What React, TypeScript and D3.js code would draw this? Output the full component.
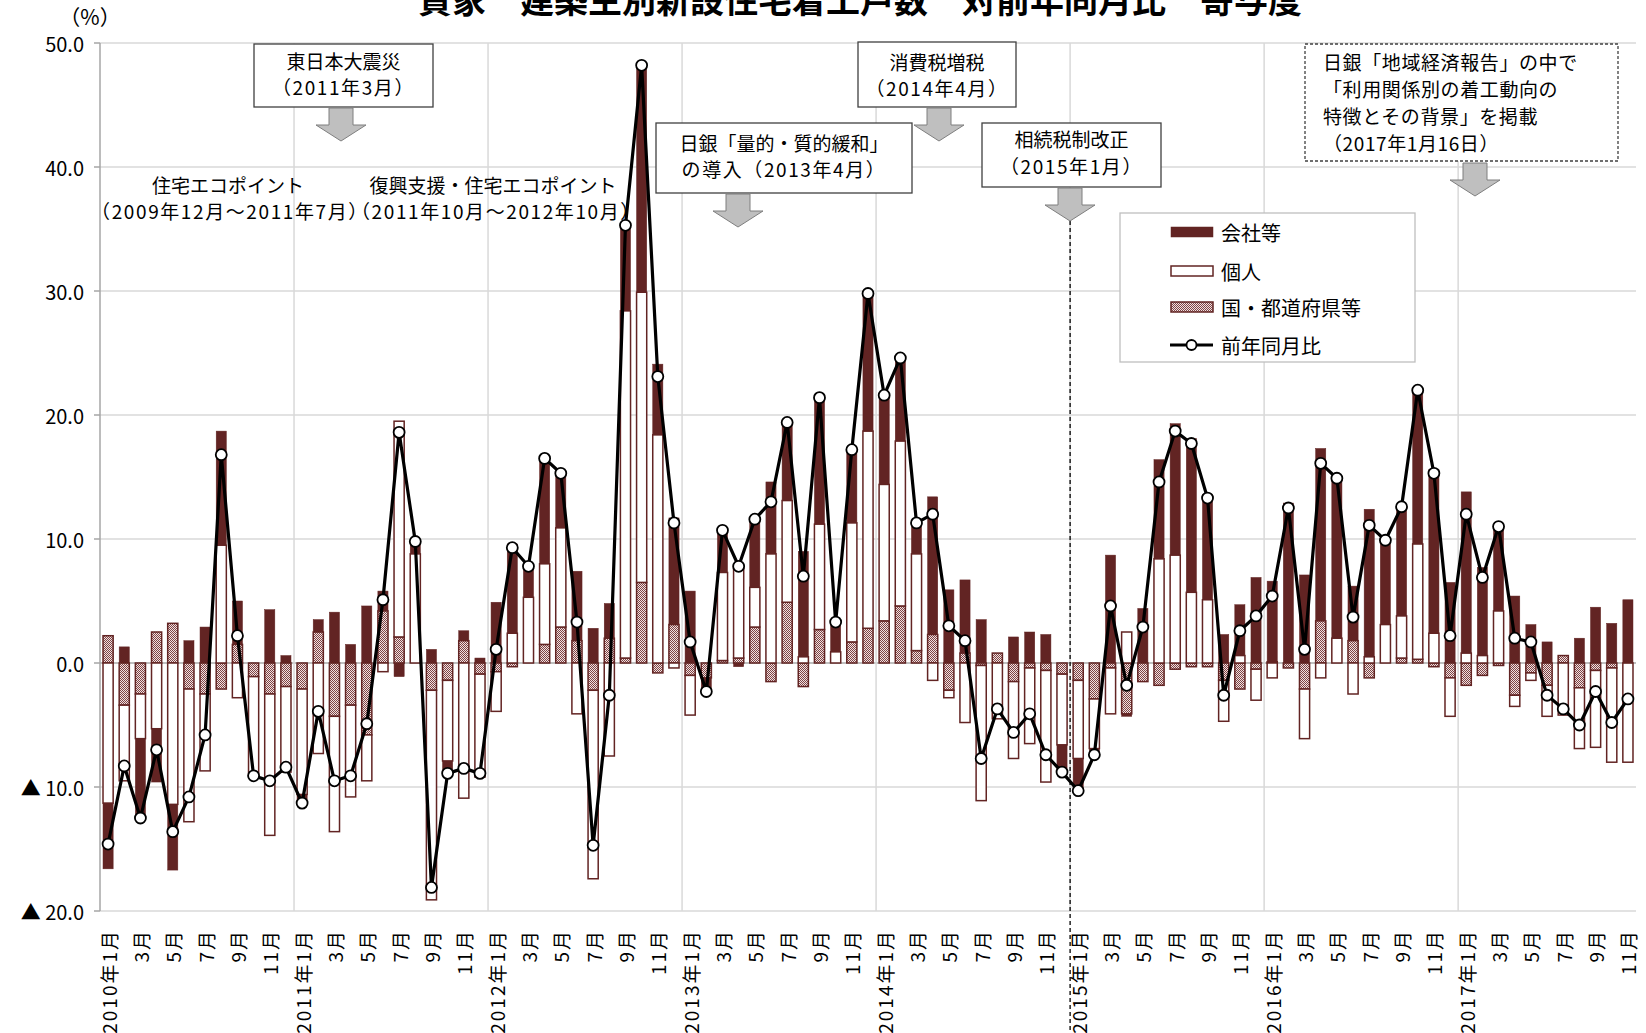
import React from "react";
import * as d3 from "d3";

// Monthly categories: 2010年1月 – 2017年11月
const years: number[] = [2010, 2011, 2012, 2013, 2014, 2015, 2016, 2017];
const monthsPerYear: number[] = [1, 2, 3, 4, 5, 6, 7, 8, 9, 10, 11, 12];
const categories: { year: number; month: number }[] = years
  .flatMap((yr) => monthsPerYear.map((m) => ({ year: yr, month: m })))
  .filter((c) => !(c.year === 2017 && c.month === 12));

// 寄与度 (percentage points) by builder type
const kaisha: number[] = [
  -5.3, 1.3, -6.3, -4.3, -5.3, 1.8, 2.9, 9.2, 3.5, 0, 4.3, 0.6,
  -0.7, 1.0, 4.1, 1.5, 4.6, 1.6, -1.1, 1.0, 1.1, -1.0, 0.8, 0.4,
  4.9, 7.2, 2.5, 8.4, 4.5, 5.6, 2.8, 2.8, 6.9, 18.4, 5.7, 8.6,
  5.8, -1.0, 3.4, -0.3, 5.4, 5.8, 6.3, 8.5, 10.3, 2.6, 6.0, 10.9,
  7.3, 6.7, 2.5, 11.1, 5.9, 5.9, 3.5, 0, 2.1, 2.5, 2.3, -2.2,
  -2.6, -0.5, 8.7, -0.2, 4.4, 8.0, 10.6, 12.4, 8.5, 2.3, 4.1, 6.9,
  6.5, 12.9, 7.1, 13.9, 13.0, 4.4, 11.9, 6.9, 8.9, 12.5, 13.2, 6.5,
  13.0, 7.1, 6.8, 5.4, 3.1, 1.7, 0, 2.0, 4.5, 3.2, 5.1,
];
const kojin: number[] = [
  -11.3, -6.1, -3.6, -5.3, -11.4, -10.7, -6.2, 9.5, -2.8, -8.0, -11.4, -6.9,
  -8.5, -7.3, -9.3, -7.4, -3.7, -0.7, 17.4, 8.8, -16.9, -6.5, -10.9, -8.3,
  -3.2, 2.4, 5.3, 6.5, 8.0, -4.1, -15.2, -7.5, 28.0, 23.4, 18.4, -0.4,
  -3.2, 0, 7.1, 7.4, 3.2, 8.8, 8.2, 0.5, 8.5, 0.9, 9.6, 15.9,
  11.0, 13.3, 7.8, -1.4, -0.6, -4.8, -10.9, -4.5, -6.2, -6.1, -9.0, -5.7,
  -6.3, -4.0, -3.7, 2.5, 0, 8.4, 8.7, 5.7, 5.1, -3.3, 0.6, -2.5,
  -1.2, 0, -4.0, -1.2, 2.0, -2.5, 0.5, 3.1, 3.4, 9.3, 2.4, -3.1,
  0.8, 0.6, 4.2, -0.9, -0.6, -2.5, -4.2, -4.9, -6.2, -7.6, -8.0,
];
const kuni: number[] = [
  2.2, -3.4, -2.5, 2.5, 3.2, -2.1, -2.5, -2.1, 1.5, -1.1, -2.5, -1.9,
  -2.1, 2.5, -4.3, -3.4, -5.8, 4.2, 2.1, 0, -2.2, -1.4, 1.8, -0.9,
  -0.7, -0.3, 0, 1.5, 2.9, 1.8, -2.2, 2.0, 0.4, 6.5, -0.8, 3.1,
  -1.0, -1.2, 0.2, 0.4, 2.9, -1.5, 4.9, -1.9, 2.7, 0, 1.7, 2.8,
  3.4, 4.6, 1.0, 2.3, -2.2, 0.8, -0.2, 0.8, -1.5, -0.4, -0.6, -0.9,
  -1.4, -2.9, -0.4, -4.1, -1.5, -1.8, -0.5, -0.3, -0.3, -1.4, -2.1, -0.5,
  0.1, -0.4, -2.1, 3.4, 0, 1.8, -1.2, 0, 0.4, 0.3, -0.3, -1.2,
  -1.8, -1.0, -0.2, -2.6, -0.8, -1.8, 0.6, -2.0, -0.6, -0.4, 0,
];
// 前年同月比 (%)
const yoy: number[] = [
  -14.6, -8.3, -12.5, -7.0, -13.6, -10.8, -5.8, 16.8, 2.2, -9.1, -9.5, -8.4,
  -11.3, -3.9, -9.5, -9.1, -4.9, 5.1, 18.6, 9.8, -18.1, -8.9, -8.5, -8.9,
  1.1, 9.3, 7.8, 16.5, 15.3, 3.3, -14.7, -2.6, 35.3, 48.2, 23.1, 11.3,
  1.7, -2.3, 10.7, 7.8, 11.6, 13.0, 19.4, 7.0, 21.4, 3.3, 17.2, 29.8,
  21.6, 24.6, 11.3, 12.0, 3.0, 1.8, -7.7, -3.7, -5.6, -4.1, -7.4, -8.8,
  -10.3, -7.4, 4.6, -1.8, 2.9, 14.6, 18.7, 17.7, 13.3, -2.6, 2.6, 3.8,
  5.4, 12.5, 1.1, 16.1, 14.9, 3.7, 11.1, 9.9, 12.6, 22.0, 15.3, 2.2,
  12.0, 6.9, 11.0, 2.0, 1.7, -2.6, -3.7, -5.0, -2.3, -4.8, -2.9,
];

const yTicks: number[] = [50, 40, 30, 20, 10, 0, -10, -20];
const seriesKeys: string[] = ["kuni", "kojin", "kaisha"];
const legendItems: { key: string; label: string }[] = [
  { key: "kaisha", label: "会社等" },
  { key: "kojin", label: "個人" },
  { key: "kuni", label: "国・都道府県等" },
  { key: "line", label: "前年同月比" },
];

const W = 1646;
const H = 1033;
const MAROON = "#622423";
const FONT = '"Noto Sans CJK JP", "Noto Sans", sans-serif';

const x = d3
  .scaleBand<number>()
  .domain(d3.range(categories.length))
  .range([100, 1636])
  .paddingInner(0.28)
  .paddingOuter(0.14);
const y = d3.scaleLinear().domain([-20, 50]).range([911, 43]);

const rows = categories.map((_, i) => ({ kuni: kuni[i], kojin: kojin[i], kaisha: kaisha[i] }));
const stacked = d3
  .stack<any>()
  .keys(seriesKeys)
  .offset(d3.stackOffsetDiverging)(rows);

const step = x.step();
const boundary = (i: number) => (x(i) as number) - (step * x.paddingInner()) / 2;
const cx = (i: number) => (x(i) as number) + x.bandwidth() / 2;

const linePath = d3
  .line<number>()
  .x((_, i) => cx(i))
  .y((v) => y(v))(yoy) as string;

const fillFor = (key: string) =>
  key === "kaisha" ? MAROON : key === "kojin" ? "#ffffff" : "url(#hatch)";

const arrow = (mx: number, top: number) =>
  `M${mx - 12},${top} h24 v17 h13 l-25,16 l-25,-16 h13 z`;

const fmtTick = (v: number) => (v < 0 ? `▲ ${Math.abs(v).toFixed(1)}` : v.toFixed(1));
// lines containing dates are set a little wider
const spacingFor = (s: string) => (/[0-9]/.test(s) ? 1.6 : 0);

type Note = { x0: number; y0: number; x1: number; y1: number; lines: string[]; ly: number[]; dashed?: boolean; left?: boolean; ax: number; ay: number };
const notes: Note[] = [
  { x0: 254, y0: 44, x1: 433, y1: 107, lines: ["東日本大震災", "（2011年3月）"], ly: [60, 86], ax: 341, ay: 108 },
  { x0: 858, y0: 42, x1: 1016, y1: 107, lines: ["消費税増税", "（2014年4月）"], ly: [61, 87], ax: 939, ay: 108 },
  { x0: 656, y0: 123, x1: 912, y1: 193, lines: ["日銀「量的・質的緩和」", "の導入（2013年4月）"], ly: [142, 168], ax: 738, ay: 194 },
  { x0: 982, y0: 123, x1: 1161, y1: 187, lines: ["相続税制改正", "（2015年1月）"], ly: [138, 165], ax: 1070, ay: 188 },
  {
    x0: 1305, y0: 44, x1: 1618, y1: 161,
    lines: ["日銀「地域経済報告」の中で", "「利用関係別の着工動向の", "特徴とその背景」を掲載", "（2017年1月16日）"],
    ly: [61, 88, 115, 142], dashed: true, left: true, ax: 1475, ay: 163,
  },
];
const freeNotes: { x: number; y: number; text: string }[] = [
  { x: 228, y: 184, text: "住宅エコポイント" },
  { x: 230, y: 210, text: "（2009年12月～2011年7月）" },
  { x: 493, y: 184, text: "復興支援・住宅エコポイント" },
  { x: 496, y: 210, text: "（2011年10月～2012年10月）" },
];

export default function App() {
  const legendY = [232, 271, 307, 345];
  return (
    <div style={{ position: "absolute", left: 0, top: 0, width: W, height: H, overflow: "hidden", background: "#fff" }}>
      <svg width={W} height={H} style={{ display: "block", fontFamily: FONT }}>
        <defs>
          <pattern id="hatch" width="2" height="2" patternUnits="userSpaceOnUse">
            <rect width="2" height="2" fill="#efe2e2" />
            <rect x="0" y="0" width="1" height="1" fill="#804444" />
            <rect x="1" y="1" width="1" height="1" fill="#804444" />
          </pattern>
        </defs>

        {/* title (runs off the top edge) */}
        <text x={860} y={13} textAnchor="middle" fontSize={34} fontWeight={700} fill="#000">
          貸家　建築主別新設住宅着工戸数　対前年同月比　寄与度
        </text>
        <text x={90} y={25} textAnchor="middle" fontSize={21} fill="#000">（%）</text>

        {/* horizontal gridlines */}
        {yTicks.map((t) => (
          <line key={t} x1={100} x2={1636} y1={y(t)} y2={y(t)}
            stroke={t === 0 ? "#bfbfbf" : "#d9d9d9"} strokeWidth={t === 0 ? 2 : 1.5} />
        ))}
        {/* yearly vertical gridlines */}
        {d3.range(12, categories.length, 12).map((i) => (
          <line key={i} x1={boundary(i)} x2={boundary(i)} y1={y(50)} y2={y(-20)} stroke="#d9d9d9" strokeWidth={1.5} />
        ))}
        {/* y axis */}
        <line x1={100} x2={100} y1={y(50)} y2={y(-20)} stroke="#a6a6a6" strokeWidth={1.5} />
        {yTicks.map((t) => (
          <g key={t}>
            <line x1={94} x2={100} y1={y(t)} y2={y(t)} stroke="#a6a6a6" strokeWidth={1.5} />
            <text x={84} y={y(t)} textAnchor="end" dominantBaseline="central" fontSize={20} fill="#000">
              {fmtTick(t)}
            </text>
          </g>
        ))}

        {/* stacked bars */}
        {stacked.map((s) => (
          <g key={s.key}>
            {s.map((d, i) => {
              const top = y(Math.max(d[0], d[1]));
              const bot = y(Math.min(d[0], d[1]));
              if (bot - top < 0.3) return null;
              const isDark = s.key === "kaisha";
              return (
                <rect key={i}
                  x={(x(i) as number) + 0.75} width={x.bandwidth() - 1.5}
                  y={top} height={bot - top}
                  fill={fillFor(s.key)}
                  stroke={MAROON} strokeWidth={isDark ? 0.5 : 1.5} />
              );
            })}
          </g>
        ))}

        {/* x axis labels */}
        {categories.map((c, i) =>
          i % 2 === 0 ? (
            <text key={i} transform={`translate(${cx(i)},929) rotate(-90)`}
              textAnchor="end" dominantBaseline="central" fontSize={19} letterSpacing={2} fill="#000">
              {c.month === 1 ? `${c.year}年1月` : `${c.month}月`}
            </text>
          ) : null
        )}

        {/* policy marker: 2015年1月 */}
        <line x1={boundary(60)} x2={boundary(60)} y1={200} y2={H} stroke="#000" strokeWidth={1.3} strokeDasharray="4,3" />

        {/* 前年同月比 line */}
        <path d={linePath} fill="none" stroke="#000" strokeWidth={3.2} strokeLinejoin="round" />
        {yoy.map((v, i) => (
          <circle key={i} cx={cx(i)} cy={y(v)} r={5.5} fill="#fff" stroke="#000" strokeWidth={1.8} />
        ))}

        {/* annotations */}
        {freeNotes.map((n, i) => (
          <text key={i} x={n.x} y={n.y} textAnchor="middle" dominantBaseline="central" fontSize={19}
            letterSpacing={spacingFor(n.text)} fill="#000">
            {n.text}
          </text>
        ))}
        {notes.map((n, i) => (
          <g key={i}>
            <rect x={n.x0} y={n.y0} width={n.x1 - n.x0} height={n.y1 - n.y0} fill="#fff"
              stroke="#404040" strokeWidth={1.3} strokeDasharray={n.dashed ? "3,2" : undefined} />
            {n.lines.map((l, j) => (
              <text key={j} x={n.left ? n.x0 + 18 : (n.x0 + n.x1) / 2} y={n.ly[j]}
                textAnchor={n.left ? "start" : "middle"} dominantBaseline="central" fontSize={19}
                letterSpacing={n.left ? 0.6 : spacingFor(l)} fill="#000">
                {l}
              </text>
            ))}
            <path d={arrow(n.ax, n.ay)} fill="#bfbfbf" stroke="#7f7f7f" strokeWidth={1} />
          </g>
        ))}

        {/* legend */}
        <rect x={1120} y={213} width={295} height={149} fill="#fff" stroke="#bfbfbf" strokeWidth={1.3} />
        {legendItems.map((it, i) => (
          <g key={it.key}>
            {it.key === "line" ? (
              <g>
                <line x1={1170} x2={1213} y1={legendY[i]} y2={legendY[i]} stroke="#000" strokeWidth={3} />
                <circle cx={1191.5} cy={legendY[i]} r={5} fill="#fff" stroke="#000" strokeWidth={1.8} />
              </g>
            ) : (
              <rect x={1171} y={legendY[i] - 5} width={42} height={10} fill={fillFor(it.key)}
                stroke={MAROON} strokeWidth={it.key === "kaisha" ? 0.5 : 1.5} />
            )}
            <text x={1221} y={legendY[i]} dominantBaseline="central" fontSize={20} fill="#000">{it.label}</text>
          </g>
        ))}
      </svg>
    </div>
  );
}
